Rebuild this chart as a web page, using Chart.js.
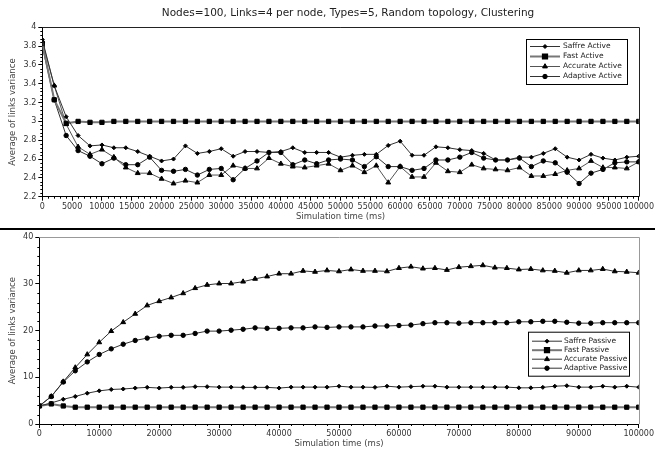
<!DOCTYPE html>
<html>
<head>
<meta charset="utf-8">
<script src="https://cdn.jsdelivr.net/npm/chart.js@4/dist/chart.umd.min.js"></script>
<style>
  html, body { margin: 0; padding: 0; background: #fff; }
  #wrap { position: relative; width: 655px; height: 453px; overflow: hidden; background: #fff; }
  canvas { position: absolute; left: 0; }
  #activeChart { top: 0; }
  #divider { position: absolute; left: 0; top: 228px; width: 655px; height: 2px; background: #000; }
  #passiveChart { top: 230px; }
</style>
</head>
<body>
<div id="wrap">
  <canvas id="activeChart" width="655" height="226"></canvas>
  <div id="divider"></div>
  <canvas id="passiveChart" width="655" height="223"></canvas>
</div>
<script>
// Sampling instants (ms)
const timeMs = [0, 2000, 4000, 6000, 8000, 10000, 12000, 14000, 16000, 18000, 20000,
  22000, 24000, 26000, 28000, 30000, 32000, 34000, 36000, 38000, 40000,
  42000, 44000, 46000, 48000, 50000, 52000, 54000, 56000, 58000, 60000,
  62000, 64000, 66000, 68000, 70000, 72000, 74000, 76000, 78000, 80000,
  82000, 84000, 86000, 88000, 90000, 92000, 94000, 96000, 98000, 100000];

// Active strategies
const saffreActive = [3.87, 3.38, 3.05, 2.85, 2.74, 2.75, 2.72, 2.72, 2.68, 2.63, 2.58,
  2.60, 2.74, 2.66, 2.68, 2.71, 2.63, 2.68, 2.68, 2.67, 2.68,
  2.72, 2.67, 2.67, 2.67, 2.62, 2.64, 2.65, 2.65, 2.745, 2.79,
  2.64, 2.64, 2.73, 2.72, 2.70, 2.69, 2.66, 2.59, 2.59, 2.62,
  2.62, 2.66, 2.71, 2.62, 2.59, 2.65, 2.61, 2.59, 2.62, 2.63];
const fastActive = [3.83, 3.23, 2.98, 3.00, 2.99, 2.99, 3.00, 3.00, 3.00, 3.00, 3.00,
  3.00, 3.00, 3.00, 3.00, 3.00, 3.00, 3.00, 3.00, 3.00, 3.00,
  3.00, 3.00, 3.00, 3.00, 3.00, 3.00, 3.00, 3.00, 3.00, 3.00,
  3.00, 3.00, 3.00, 3.00, 3.00, 3.00, 3.00, 3.00, 3.00, 3.00,
  3.00, 3.00, 3.00, 3.00, 3.00, 3.00, 3.00, 3.00, 3.00, 3.00];
const accurateActive = [3.85, 3.38, 2.97, 2.73, 2.65, 2.70, 2.62, 2.51, 2.45, 2.45, 2.39,
  2.34, 2.37, 2.35, 2.43, 2.43, 2.53, 2.50, 2.50, 2.61, 2.55,
  2.52, 2.51, 2.53, 2.55, 2.48, 2.53, 2.46, 2.53, 2.35, 2.52,
  2.41, 2.41, 2.56, 2.47, 2.46, 2.54, 2.50, 2.49, 2.48, 2.51,
  2.42, 2.42, 2.44, 2.48, 2.50, 2.58, 2.51, 2.51, 2.50, 2.57];
const adaptiveActive = [3.80, 3.23, 2.85, 2.69, 2.63, 2.55, 2.61, 2.54, 2.54, 2.62, 2.48,
  2.47, 2.49, 2.43, 2.49, 2.50, 2.38, 2.50, 2.58, 2.67, 2.67,
  2.54, 2.59, 2.55, 2.59, 2.60, 2.59, 2.52, 2.625, 2.52, 2.52,
  2.48, 2.50, 2.59, 2.59, 2.62, 2.67, 2.61, 2.59, 2.59, 2.61,
  2.52, 2.58, 2.56, 2.46, 2.34, 2.45, 2.49, 2.56, 2.57, 2.57];

// Passive strategies
const saffrePassive = [3.86, 4.5, 5.3, 5.9, 6.6, 7.1, 7.4, 7.5, 7.7, 7.85, 7.7,
  7.85, 7.85, 8.0, 8.0, 7.9, 7.9, 7.85, 7.85, 7.85, 7.7,
  7.9, 7.9, 7.9, 7.9, 8.1, 7.9, 7.9, 7.85, 8.1, 7.9,
  8.0, 8.1, 8.1, 7.9, 7.9, 7.9, 7.9, 7.9, 7.9, 7.75,
  7.75, 7.85, 8.1, 8.2, 7.9, 7.9, 8.1, 7.9, 8.1, 7.9];
const fastPassive = [3.86, 4.3, 3.86, 3.6, 3.6, 3.6, 3.6, 3.6, 3.6, 3.6, 3.6,
  3.6, 3.6, 3.6, 3.6, 3.6, 3.6, 3.6, 3.6, 3.6, 3.6,
  3.6, 3.6, 3.6, 3.6, 3.6, 3.6, 3.6, 3.6, 3.6, 3.6,
  3.6, 3.6, 3.6, 3.6, 3.6, 3.6, 3.6, 3.6, 3.6, 3.6,
  3.6, 3.6, 3.6, 3.6, 3.6, 3.6, 3.6, 3.6, 3.6, 3.6];
const accuratePassive = [3.86, 5.9, 9.07, 12.1, 14.9, 17.5, 19.9, 21.8, 23.6, 25.4, 26.3,
  27.1, 28.0, 29.1, 29.8, 30.1, 30.1, 30.5, 31.1, 31.6, 32.2,
  32.2, 32.8, 32.6, 32.9, 32.7, 33.1, 32.8, 32.8, 32.7, 33.4,
  33.7, 33.3, 33.4, 33.0, 33.6, 33.8, 34.0, 33.5, 33.4, 33.1,
  33.2, 32.9, 32.8, 32.4, 32.9, 32.9, 33.2, 32.7, 32.6, 32.4];
const adaptivePassive = [3.86, 5.9, 9.0, 11.4, 13.3, 14.9, 16.1, 17.1, 17.9, 18.4, 18.8,
  19.0, 19.0, 19.4, 19.9, 19.9, 20.1, 20.3, 20.6, 20.5, 20.5,
  20.6, 20.6, 20.8, 20.7, 20.8, 20.8, 20.8, 21.0, 21.0, 21.1,
  21.2, 21.5, 21.7, 21.7, 21.6, 21.7, 21.7, 21.7, 21.7, 21.9,
  21.9, 22.0, 22.0, 21.8, 21.6, 21.6, 21.7, 21.7, 21.7, 21.7];

// Axis ticks
const activeTimeTicks = [0, 5000, 10000, 15000, 20000, 25000, 30000, 35000, 40000, 45000, 50000,
  55000, 60000, 65000, 70000, 75000, 80000, 85000, 90000, 95000, 100000];
const passiveTimeTicks = [0, 10000, 20000, 30000, 40000, 50000, 60000, 70000, 80000, 90000, 100000];
const activeVarTicks = [2.2, 2.4, 2.6, 2.8, 3, 3.2, 3.4, 3.6, 3.8, 4];
const passiveVarTicks = [0, 10, 20, 30, 40];

const titleText = 'Nodes=100, Links=4 per node, Types=5, Random topology, Clustering';
const FONT = "'DejaVu Sans', sans-serif";

function toPoints(values) {
  return timeMs.map((t, i) => ({ x: t, y: values[i] }));
}

function series(label, values, style, radius, lineColor, lineWidth) {
  return {
    label,
    data: toPoints(values),
    borderColor: lineColor,
    borderWidth: lineWidth,
    pointStyle: style,
    pointRadius: radius,
    pointBackgroundColor: '#000',
    pointBorderColor: '#000',
    pointBorderWidth: 1,
    tension: 0,
    fill: false
  };
}

// Short outer tick marks between labelled ticks, plus the plot frame
const framePlugin = {
  id: 'frameAndMinorTicks',
  afterDraw(chart, args, opts) {
    const { ctx, chartArea: a, scales } = chart;
    const x = scales.x, y = scales.y;
    ctx.save();
    // frame top and right
    ctx.strokeStyle = opts.frameColor;
    ctx.lineWidth = 1;
    ctx.beginPath();
    ctx.moveTo(a.left, Math.round(a.top) + 0.5);
    ctx.lineTo(Math.round(a.right) + 0.5, Math.round(a.top) + 0.5);
    ctx.lineTo(Math.round(a.right) + 0.5, a.bottom);
    ctx.stroke();
    // minor ticks
    ctx.strokeStyle = '#000';
    ctx.beginPath();
    const xt = opts.xTicks, yt = opts.yTicks;
    for (let i = 0; i < xt.length - 1; i++) {
      for (let k = 1; k < opts.xSub; k++) {
        const v = xt[i] + (xt[i + 1] - xt[i]) * k / opts.xSub;
        const px = Math.round(x.getPixelForValue(v)) + 0.5;
        ctx.moveTo(px, a.bottom);
        ctx.lineTo(px, a.bottom + 2);
      }
    }
    for (let i = 0; i < yt.length - 1; i++) {
      for (let k = 1; k < opts.ySub; k++) {
        const v = yt[i] + (yt[i + 1] - yt[i]) * k / opts.ySub;
        const py = Math.round(y.getPixelForValue(v)) + 0.5;
        ctx.moveTo(a.left, py);
        ctx.lineTo(a.left - 2, py);
      }
    }
    ctx.stroke();
    ctx.restore();
  }
};

// Boxed legend placed inside the plot
const boxLegendPlugin = {
  id: 'boxLegend',
  afterDraw(chart, args, o) {
    const { ctx } = chart;
    ctx.save();
    ctx.fillStyle = '#fff';
    ctx.fillRect(o.left, o.top, o.width, o.height);
    ctx.strokeStyle = '#000';
    ctx.lineWidth = 1;
    ctx.strokeRect(o.left + 0.5, o.top + 0.5, o.width, o.height);
    ctx.font = o.fontSize + 'px ' + FONT;
    ctx.textBaseline = 'middle';
    ctx.textAlign = 'left';
    chart.data.datasets.forEach((ds, i) => {
      const cy = o.firstRow + i * o.rowGap;
      ctx.strokeStyle = ds.borderColor;
      ctx.lineWidth = ds.borderWidth;
      ctx.beginPath();
      ctx.moveTo(o.left + o.lineStart, cy + 0.5);
      ctx.lineTo(o.left + o.lineEnd, cy + 0.5);
      ctx.stroke();
      ctx.fillStyle = '#000';
      ctx.strokeStyle = '#000';
      Chart.helpers.drawPoint(ctx, {
        pointStyle: ds.pointStyle, radius: ds.pointRadius, rotation: 0, borderWidth: 1
      }, o.left + (o.lineStart + o.lineEnd) / 2, cy + 0.5);
      ctx.fillStyle = '#222';
      ctx.fillText(ds.label, o.left + o.textX, cy + 0.5);
    });
    ctx.restore();
  }
};

const headingPlugin = {
  id: 'heading',
  afterDraw(chart, args, o) {
    if (!o.text) return;
    const { ctx } = chart;
    ctx.save();
    ctx.font = o.fontSize + 'px ' + FONT;
    ctx.fillStyle = '#222';
    ctx.textAlign = 'center';
    ctx.textBaseline = 'middle';
    ctx.fillText(o.text, o.x, o.y);
    ctx.restore();
  }
};

function buildChart(canvasId, cfg) {
  const tickFont = { family: FONT, size: 8 };
  const titleFont = { family: FONT, size: 8.5 };
  return new Chart(document.getElementById(canvasId), {
    type: 'line',
    data: { datasets: cfg.datasets },
    options: {
      responsive: false,
      animation: false,
      events: [],
      layout: { padding: cfg.padding },
      plugins: {
        legend: { display: false },
        tooltip: { enabled: false },
        title: { display: false },
        frameAndMinorTicks: {
          frameColor: cfg.frameColor,
          xTicks: cfg.xTicks, yTicks: cfg.yTicks, xSub: cfg.xSub, ySub: cfg.ySub
        },
        boxLegend: cfg.legend,
        heading: cfg.heading || {}
      },
      scales: {
        x: {
          type: 'linear',
          min: 0,
          max: 100000,
          afterBuildTicks: s => { s.ticks = cfg.xTicks.map(v => ({ value: v })); },
          afterFit: s => { s.height = cfg.xHeight; },
          ticks: {
            autoSkip: false, maxRotation: 0, minRotation: 0, padding: 1,
            color: '#333', font: tickFont,
            callback: v => String(v)
          },
          grid: { drawOnChartArea: false, drawTicks: true, tickLength: 4, color: '#000', lineWidth: 1 },
          border: { display: true, color: '#000', width: 1 },
          title: {
            display: true, text: 'Simulation time (ms)', color: '#444', font: titleFont,
            padding: { top: 0, bottom: 4 }
          }
        },
        y: {
          type: 'linear',
          min: cfg.yMin,
          max: cfg.yMax,
          afterBuildTicks: s => { s.ticks = cfg.yTicks.map(v => ({ value: v })); },
          afterFit: s => { s.width = cfg.yWidth; },
          ticks: {
            padding: 2, color: '#333', font: tickFont,
            callback: v => String(Math.round(v * 10) / 10)
          },
          grid: { drawOnChartArea: false, drawTicks: true, tickLength: 4, color: '#000', lineWidth: 1 },
          border: { display: true, color: '#000', width: 1 },
          title: {
            display: true, text: 'Average of links variance', color: '#444', font: titleFont,
            padding: { top: 8, bottom: 0 }
          }
        }
      }
    },
    plugins: [framePlugin, boxLegendPlugin, headingPlugin]
  });
}

buildChart('activeChart', {
  datasets: [
    series('Saffre Active', saffreActive, 'rectRot', 2, '#333', 1),
    series('Fast Active', fastActive, 'rect', 3, '#777', 2),
    series('Accurate Active', accurateActive, 'triangle', 2.8, '#555', 1),
    series('Adaptive Active', adaptiveActive, 'circle', 2.2, '#333', 1)
  ],
  padding: { left: 0, right: 15.7, top: 27.3, bottom: 0 },
  xHeight: 29.3, yWidth: 42.3,
  yMin: 2.2, yMax: 4,
  xTicks: activeTimeTicks, yTicks: activeVarTicks, xSub: 5, ySub: 5,
  frameColor: '#222',
  legend: {
    left: 526, top: 39, width: 101, height: 45,
    firstRow: 46, rowGap: 10, lineStart: 4, lineEnd: 34, textX: 37, fontSize: 7.5
  },
  heading: { text: titleText, x: 348, y: 13, fontSize: 10.5 }
});

buildChart('passiveChart', {
  datasets: [
    series('Saffre Passive', saffrePassive, 'rectRot', 2, '#333', 1),
    series('Fast Passive', fastPassive, 'rect', 3, '#777', 2),
    series('Accurate Passive', accuratePassive, 'triangle', 2.8, '#333', 1),
    series('Adaptive Passive', adaptivePassive, 'circle', 2.2, '#333', 1)
  ],
  padding: { left: 0, right: 15.7, top: 7.3, bottom: 0 },
  xHeight: 29, yWidth: 39.3,
  yMin: 0, yMax: 40,
  xTicks: passiveTimeTicks, yTicks: passiveVarTicks, xSub: 5, ySub: 5,
  frameColor: '#999',
  legend: {
    left: 528, top: 101.7, width: 101, height: 44,
    firstRow: 110.7, rowGap: 9, lineStart: 4, lineEnd: 34, textX: 36, fontSize: 7.5
  }
});
</script>
</body>
</html>
